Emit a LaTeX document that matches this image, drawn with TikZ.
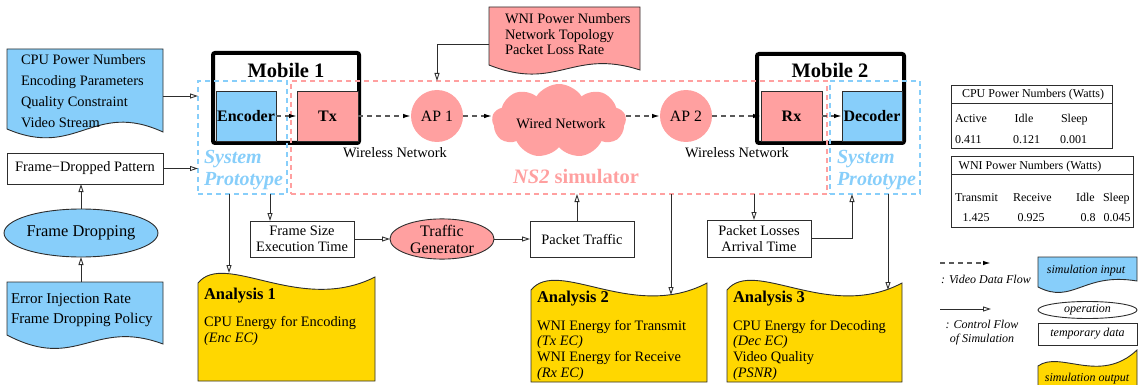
\documentclass[tikz,border=0pt]{standalone}
\usepackage{fontspec}
\setmainfont{Liberation Serif}
\usetikzlibrary{arrows.meta,shapes.geometric,shapes.symbols}
\definecolor{inblue}{RGB}{135,206,250}
\definecolor{nspink}{RGB}{255,160,160}
\definecolor{outgold}{RGB}{255,215,0}
\definecolor{edge}{RGB}{45,45,45}
\begin{document}
\begin{tikzpicture}[x=1pt, y=-1pt,
  every node/.style={inner sep=0pt, outer sep=0pt, font=\fontsize{14.4}{16}\selectfont},
  box/.style={draw=edge, line width=0.9pt, fill=white, align=center},
  docline/.style={draw=edge, line width=0.9pt},
  mobile/.style={draw=black, line width=4pt, rounded corners=2pt, fill=white},
  unit/.style={draw=edge, line width=0.9pt, minimum height=50pt, font=\fontsize{16}{18}\selectfont\bfseries},
  mobtitle/.style={font=\fontsize{20.5}{22}\selectfont\bfseries},
  protobox/.style={draw=inblue, line width=2pt, dash pattern=on 5pt off 4pt},
  simbox/.style={draw=nspink, line width=2pt, dash pattern=on 5pt off 4pt},
  protolabel/.style={align=left, text=inblue, font=\fontsize{20}{22}\selectfont\bfseries\itshape},
  ctrl/.style={draw=edge, line width=0.9pt, -{Triangle[open, length=8pt, width=5pt]}},
  vid/.style={draw=black!65, line width=1.4pt, dash pattern=on 5pt off 4pt, -{Latex[length=8pt, width=4.5pt, color=black]}},
  tab/.style={font=\fontsize{12}{14}\selectfont},
  leg/.style={font=\fontsize{12}{14}\selectfont\itshape},
  head/.style={font=\fontsize{16.5}{18}\selectfont\bfseries}
]
\useasboundingbox (0,0) rectangle (1140,385);

% ---------- simulation inputs on the left ----------
\draw[docline, fill=inblue] (7,49) -- (163,49) -- (163,132) .. controls (93,100) and (77,159) .. (7,129) -- cycle;
\node[anchor=north west, align=left, font=\fontsize{14.4}{20.7}\selectfont] (in1txt) at (21,55) {CPU Power Numbers\\Encoding Parameters\\Quality Constraint\\Video Stream};
\node[minimum width=156pt, minimum height=84pt] (in1) at (85,91) {};

\node[box, minimum width=156pt, minimum height=31pt] (fdp) at (85,168.5) {Frame−Dropped Pattern};

\node[ellipse, draw=edge, line width=0.9pt, fill=inblue, minimum width=152pt, minimum height=48pt, font=\fontsize{16.4}{18}\selectfont] (fd) at (81,233) {Frame Dropping};

\draw[docline, fill=inblue] (7,282) -- (163,282) -- (163,344) .. controls (93,318) and (77,372) .. (7,335) -- cycle;
\node[anchor=north west, align=left, font=\fontsize{15}{20}\selectfont] (errtxt) at (11,294) {Error Injection Rate\\Frame Dropping Policy};
\node[minimum width=156pt, minimum height=56pt] (err) at (85,310) {};

% ---------- mobile 1 ----------
\node[mobile, minimum width=146pt, minimum height=90pt] (mob1) at (286,98) {};
\node[mobtitle] (mob1t) at (286,70) {Mobile 1};

% ---------- mobile 2 ----------
\node[mobile, minimum width=147pt, minimum height=89pt] (mob2) at (830.5,98.5) {};
\node[mobtitle] (mob2t) at (830,70) {Mobile 2};

% ---------- prototype / simulator regions ----------
\node[protobox, minimum width=89pt, minimum height=113pt] (sp1) at (242.5,137.5) {};
\node[simbox, minimum width=536pt, minimum height=113pt] (ns2) at (559,137.5) {};
\node[protobox, minimum width=90pt, minimum height=113pt] (sp2) at (875,137.5) {};
\node[protolabel, anchor=west] (sp1t) at (204,170) {System\\Prototype};
\node[protolabel, anchor=west] (sp2t) at (837,170) {System\\Prototype};
\node[text=nspink, font=\fontsize{20.5}{22}\selectfont\bfseries] (ns2t) at (576,177) {\textit{NS2} simulator};

% ---------- units inside the mobiles ----------
\node[unit, fill=inblue, minimum width=60pt] (enc) at (246,116) {Encoder};
\node[unit, fill=nspink, minimum width=61pt] (tx) at (327.5,116) {Tx};
\node[unit, fill=nspink, minimum width=61pt] (rx) at (791.5,116) {Rx};
\node[unit, fill=inblue, minimum width=60pt] (dec) at (872,116) {Decoder};

% ---------- network ----------
\node[circle, fill=nspink, minimum size=52pt, font=\fontsize{15.8}{18}\selectfont] (ap1) at (437,116) {AP 1};
\node[circle, fill=nspink, minimum size=52pt, font=\fontsize{15.8}{18}\selectfont] (ap2) at (686,116) {AP 2};
\node[cloud, cloud puffs=9, cloud puff arc=115, aspect=1.8, fill=nspink, minimum width=134pt, minimum height=74pt] (cloud) at (559,121) {};
\node (wntxt) at (561,124) {Wired Network};
\node (wl1) at (395,153) {Wireless Network};
\node (wl2) at (737,153) {Wireless Network};

% network parameters (input document)
\draw[docline, fill=nspink] (489,7) -- (640,7) -- (640,70) .. controls (572,48) and (557,92) .. (489,65) -- cycle;
\node[anchor=north west, align=left, font=\fontsize{14.4}{15.5}\selectfont] (partxt) at (505,14) {WNI Power Numbers\\Network Topology\\Packet Loss Rate};
\node[minimum width=151pt, minimum height=59pt] (par) at (564.5,36.5) {};

% ---------- video data flow ----------
\draw[vid] (enc) -- (tx);
\draw[vid] (tx) -- (ap1);
\draw[vid] (ap1.east) -- (ap1.east -| cloud.west);
\draw[vid] (ap2.west -| cloud.east) -- (ap2.west);
\draw[vid] (ap2) -- (rx);
\draw[vid] (rx) -- (dec);

% ---------- intermediate data ----------
\node[box, minimum width=104pt, minimum height=36pt] (fse) at (302,239) {Frame Size\\Execution Time};
\node[ellipse, draw=edge, line width=0.9pt, fill=nspink, minimum width=104pt, minimum height=40pt, align=center, font=\fontsize{16}{17}\selectfont] (tg) at (442,239) {Traffic\\Generator};
\node[box, minimum width=104pt, minimum height=36pt] (pt) at (582,239) {Packet Traffic};
\node[box, minimum width=104pt, minimum height=37pt] (pl) at (759,238.5) {Packet Losses\\Arrival Time};

% ---------- analysis outputs ----------
\draw[docline, fill=outgold] (198,381) -- (198,283) .. controls (225,250) and (300,315) .. (375,277) -- (375,381) -- cycle;
\draw[docline, fill=outgold] (531,382) -- (531,290) .. controls (558,257) and (633,322) .. (707,283) -- (707,382) -- cycle;
\draw[docline, fill=outgold] (727,382) -- (727,290) .. controls (754,257) and (829,322) .. (902,283) -- (902,382) -- cycle;
\coordinate (a1in) at (229,273);
\coordinate (a2in) at (671,295);
\coordinate (a3in) at (888,290);

\node[head, anchor=west] (an1h) at (204,296) {Analysis 1};
\node[anchor=north west, align=left] (an1b) at (204,316) {CPU Energy for Encoding\\\textit{(Enc EC)}};
\node[head, anchor=west] (an2h) at (537,299) {Analysis 2};
\node[anchor=north west, align=left, font=\fontsize{14.4}{15.7}\selectfont] (an2b) at (537,320) {WNI Energy for Transmit\\\textit{(Tx EC)}\\WNI Energy for Receive\\\textit{(Rx EC)}};
\node[head, anchor=west] (an3h) at (733,299) {Analysis 3};
\node[anchor=north west, align=left, font=\fontsize{14.4}{15.7}\selectfont] (an3b) at (733,320) {CPU Energy for Decoding\\\textit{(Dec EC)}\\Video Quality\\\textit{(PSNR)}};

% ---------- control flow ----------
\draw[ctrl] (in1.east |- 0,96) -- (sp1.west |- 0,96);
\draw[ctrl] (fdp.east) -- (fdp.east -| sp1.west);
\draw[ctrl] (fd.north) -- (fd.north |- fdp.south);
\draw[ctrl] (fd.south |- err.north) -- (fd.south);
\draw[ctrl] (par.west |- 0,44) -| (ap1 |- ns2.north);
\draw[ctrl] ([xshift=-32pt]fse.north |- sp1.south) -- ([xshift=-32pt]fse.north);
\draw[ctrl] (fse.east) -- (fse.east -| tg.west);
\draw[ctrl] (tg.east) -- (tg.east -| pt.west);
\draw[ctrl] ([xshift=-5pt]pt.north) -- ([xshift=-5pt]pt.north |- ns2.south);
\draw[ctrl] ([xshift=-5pt]pl.north |- ns2.south) -- ([xshift=-5pt]pl.north);
\draw[ctrl] (pl.east) -| ([xshift=-23pt]sp2.south);
\draw[ctrl] (a1in |- sp1.south) -- (a1in);
\draw[ctrl] (a2in |- ns2.south) -- (a2in);
\draw[ctrl] (a3in |- sp2.south) -- (a3in);

% ---------- power tables ----------
\node[draw=edge, line width=0.8pt, minimum width=161pt, minimum height=63pt] (cput) at (1031.5,116.5) {};
\draw[edge, line width=0.8pt] (cput.west |- 0,103) -- (cput.east |- 0,103);
\node[tab, anchor=base] (cpuh) at (1033,98) {CPU Power Numbers (Watts)};
\node[tab, anchor=base west] (c11) at (955,123) {Active};
\node[tab, anchor=base] (c12) at (1024,123) {Idle};
\node[tab, anchor=base west] (c13) at (1061,123) {Sleep};
\node[tab, anchor=base west] (c21) at (955,143) {0.411};
\node[tab, anchor=base west] (c22) at (1013,143) {0.121};
\node[tab, anchor=base west] (c23) at (1060,143) {0.001};

\node[draw=edge, line width=0.8pt, minimum width=182pt, minimum height=71pt] (wnit) at (1042,191.5) {};
\draw[edge, line width=0.8pt] (wnit.west |- 0,174) -- (wnit.east |- 0,174);
\node[tab, anchor=base] (wnih) at (1030,169) {WNI Power Numbers (Watts)};
\node[tab, anchor=base west] (w11) at (955,201) {Transmit};
\node[tab, anchor=base west] (w12) at (1013,201) {Receive};
\node[tab, anchor=base west] (w13) at (1076,201) {Idle};
\node[tab, anchor=base west] (w14) at (1103,201) {Sleep};
\node[tab, anchor=base] (w21) at (976,221) {1.425};
\node[tab, anchor=base] (w22) at (1031,221) {0.925};
\node[tab, anchor=base] (w23) at (1088,221) {0.8};
\node[tab, anchor=base] (w24) at (1117,221) {0.045};

% ---------- legend ----------
\coordinate (lva) at (940,263);
\coordinate (lvb) at (991,263);
\draw[vid] (lva) -- (lvb);
\node[leg, anchor=base west] (lvt) at (941,283) {: Video Data Flow};
\coordinate (lca) at (940,309);
\coordinate (lcb) at (991,309);
\draw[ctrl] (lca) -- (lcb);
\node[leg, align=center] (lct) at (982,333) {: Control Flow\\of Simulation};

\draw[docline, fill=inblue] (1038,257) -- (1137,257) -- (1137,281) .. controls (1083,272) and (1073,305) .. (1038,287) -- cycle;
\node[leg, anchor=base] (lin) at (1086,273) {simulation input};
\node[ellipse, draw=edge, line width=0.9pt, minimum width=99pt, minimum height=17pt, leg] (lop) at (1087.5,310) {operation};
\node[box, leg, minimum width=99pt, minimum height=22pt] (ltmp) at (1087.5,334) {temporary data};
\draw[docline, fill=outgold] (1038,392) -- (1038,366) .. controls (1060,350) and (1100,385) .. (1137,350) -- (1137,392) -- cycle;
\node[leg, anchor=base] (lout) at (1087,381) {simulation output};
\end{tikzpicture}
\end{document}
